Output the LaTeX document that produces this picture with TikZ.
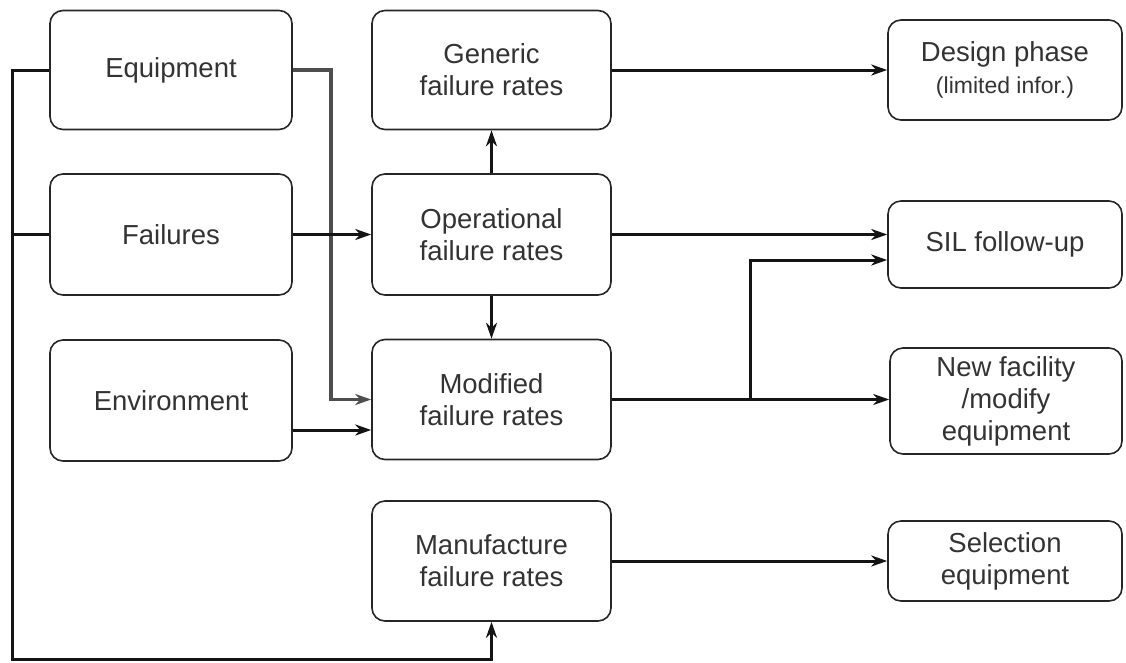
\documentclass[tikz,border=0pt]{standalone}
\usepackage{fontspec}
\setmainfont{Liberation Sans}
\usetikzlibrary{arrows.meta}
\definecolor{txt}{HTML}{333333}
\definecolor{grayline}{HTML}{4E4E4E}
\tikzset{
  box/.style={draw=black!85, line width=1.6pt, rounded corners=13pt, align=center,
    text=txt, font=\fontsize{27.5}{32}\selectfont, inner sep=0pt},
  link/.style={line width=3pt, draw=black!92},
  arr/.style={link, -{Stealth[length=16pt,width=11pt,inset=5pt]}},
}
\begin{document}
\begin{tikzpicture}[x=1pt,y=-1pt]
\useasboundingbox (0,0) rectangle (1126,662);
% source boxes
\node[box, minimum width=242pt, minimum height=119pt] (eq) at (171,70) {Equipment};
\node[box, minimum width=242pt, minimum height=121pt] (fa) at (171,234.5) {Failures};
\node[box, minimum width=242pt, minimum height=121pt] (en) at (171,400.5) {Environment};
% failure rate boxes
\node[box, minimum width=239pt, minimum height=119pt] (gen) at (491.5,70) {Generic\\failure rates};
\node[box, minimum width=239pt, minimum height=121pt] (op) at (491.5,234.5) {Operational\\failure rates};
\node[box, minimum width=239pt, minimum height=120pt] (mod) at (491.5,399.5) {Modified\\failure rates};
\node[box, minimum width=239pt, minimum height=120pt] (man) at (491.5,561) {Manufacture\\failure rates};
% application boxes
\node[box, minimum width=234pt, minimum height=100pt] (des) at (1005,70) {Design phase\\{\fontsize{23}{27}\selectfont (limited infor.)}};
\node[box, minimum width=234pt, minimum height=87pt] (sil) at (1005,244.5) {SIL follow-up};
\node[box, minimum width=232pt, minimum height=106pt] (nf) at (1006,401) {New facility\\/modify\\equipment};
\node[box, minimum width=234pt, minimum height=80pt] (sel) at (1005,561) {Selection\\equipment};
% connector bends
\coordinate (lt) at (eq.west -| 12,0);
\coordinate (lb) at (12,659);
\coordinate (bb) at (man.south |- lb);
\coordinate (et) at (eq.east -| 331,0);
\coordinate (eb) at (mod.west -| 331,0);
\coordinate (bm) at (mod.east -| 750,0);
\coordinate (bt) at (750,260);
% left bus to manufacture rates
\draw[arr] (eq.west) -- (lt) -- (lb) -- (bb) -- (man.south);
\draw[link] (fa.west) -- (fa.west -| lt);
% inputs to operational and modified rates
\draw[arr, draw=grayline, line width=3.4pt] (eq.east) -- (et) -- (eb) -- (mod.west);
\draw[arr] (fa.east) -- (op.west);
\draw[arr] (en.east |- 0,430) -- (mod.west |- 0,430);
\draw[arr] (op.north) -- (gen.south);
\draw[arr] (op.south) -- (mod.north);
% outputs
\draw[arr] (gen.east) -- (des.west);
\draw[arr] (op.east) -- (sil.west |- op.east);
\draw[link] (mod.east) -- (bm);
\draw[arr] (bm) -- (bt) -- (sil.west |- bt);
\draw[arr] (bm) -- (nf.west |- bm);
\draw[arr] (man.east) -- (sel.west |- man.east);
\end{tikzpicture}
\end{document}
